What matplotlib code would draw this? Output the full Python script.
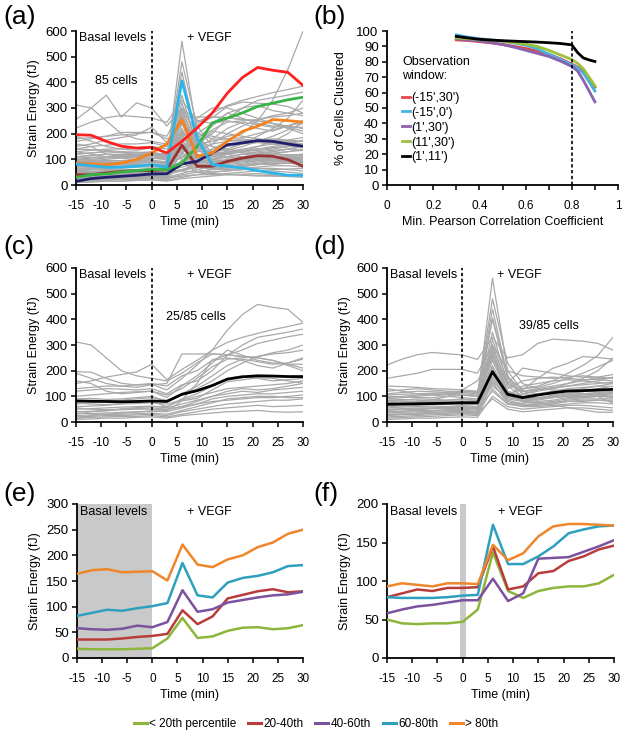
import matplotlib
matplotlib.use('Agg')
import matplotlib.pyplot as plt
from matplotlib.lines import Line2D
from matplotlib.patches import Rectangle

plt.rcParams['font.family'] = ['Liberation Sans', 'DejaVu Sans']
plt.rcParams['font.size'] = 8.5
plt.rcParams['axes.unicode_minus'] = False

# time points (min)
time = [-15, -12, -9, -6, -3, 0, 3, 6, 9, 12, 15, 18, 21, 24, 27, 30]

# --- panel (a) highlighted cells ---
a_red = [196, 194, 170, 151, 144, 147, 125, 170, 222, 280, 358, 419, 458, 447, 439, 388]
a_green = [30, 40, 43, 51, 56, 60, 60, 86, 150, 242, 261, 281, 306, 319, 332, 342]
a_navy = [14, 25, 30, 34, 38, 43, 44, 82, 92, 125, 157, 164, 173, 170, 160, 151]
a_cyan = [82, 75, 69, 69, 73, 79, 69, 406, 183, 79, 73, 66, 56, 47, 38, 38]
a_orange = [86, 82, 79, 86, 99, 125, 160, 255, 112, 125, 170, 209, 229, 255, 251, 245]
a_brown = [40, 40, 47, 53, 56, 56, 60, 155, 73, 73, 92, 105, 114, 112, 99, 73]

# --- cluster (c): gradual increase ---
cluster_c = [
    a_red, a_green, a_navy,
    [312, 300, 250, 200, 180, 170, 160, 190, 230, 265, 262, 255, 250, 240, 225, 210],
    [150, 160, 175, 185, 195, 225, 165, 205, 240, 280, 310, 330, 345, 360, 372, 385],
    [130, 135, 140, 140, 135, 145, 150, 265, 265, 265, 262, 255, 250, 240, 220, 200],
    [160, 150, 120, 110, 115, 120, 105, 130, 170, 215, 245, 250, 255, 265, 270, 280],
    [120, 125, 130, 128, 125, 130, 110, 145, 160, 200, 260, 300, 330, 340, 350, 362],
    [100, 105, 110, 115, 118, 120, 95, 140, 180, 230, 280, 260, 240, 230, 225, 225],
    [90, 92, 88, 90, 95, 100, 80, 110, 140, 180, 220, 245, 235, 225, 230, 250],
    [75, 70, 68, 72, 75, 80, 60, 90, 110, 140, 170, 180, 170, 160, 165, 170],
    [60, 62, 65, 70, 72, 75, 70, 85, 100, 115, 130, 135, 140, 145, 150, 160],
    [50, 52, 55, 58, 60, 62, 55, 70, 85, 100, 120, 130, 125, 130, 140, 150],
    [40, 42, 45, 48, 50, 50, 48, 60, 80, 100, 110, 120, 115, 125, 130, 135],
    [35, 33, 35, 38, 40, 42, 40, 55, 70, 90, 100, 105, 110, 110, 115, 120],
    [25, 28, 30, 30, 32, 35, 30, 45, 60, 75, 90, 95, 100, 100, 95, 95],
    [20, 22, 25, 25, 28, 30, 25, 40, 50, 60, 70, 75, 80, 85, 85, 90],
    [15, 18, 20, 22, 22, 25, 20, 30, 40, 50, 55, 60, 65, 60, 62, 65],
    [55, 50, 48, 50, 52, 55, 50, 60, 70, 80, 85, 90, 95, 95, 100, 105],
    [190, 170, 150, 140, 145, 150, 140, 180, 200, 240, 250, 240, 220, 210, 230, 245],
    [70, 75, 80, 85, 90, 95, 85, 105, 130, 160, 200, 230, 255, 270, 280, 300],
    [10, 12, 15, 15, 18, 20, 15, 25, 30, 35, 40, 42, 45, 40, 38, 40],
]
mean_c = [82, 81, 80, 79, 80, 82, 80, 108, 122, 142, 167, 176, 180, 179, 177, 177]

# --- cluster (d): spike at 6 min ---
cluster_d = [
    a_cyan, a_orange, a_brown,
    [222, 245, 262, 271, 266, 261, 244, 330, 250, 262, 306, 323, 319, 315, 306, 280],
    [170, 180, 190, 205, 205, 205, 190, 300, 200, 180, 175, 170, 175, 180, 175, 170],
    [130, 120, 110, 105, 100, 95, 90, 560, 200, 120, 110, 105, 100, 95, 100, 100],
    [110, 115, 120, 118, 115, 110, 105, 480, 230, 150, 130, 125, 120, 120, 118, 115],
    [100, 98, 95, 95, 100, 105, 100, 440, 180, 110, 120, 130, 150, 170, 200, 250],
    [90, 95, 100, 105, 110, 115, 110, 400, 170, 130, 140, 160, 190, 220, 260, 330],
    [80, 85, 90, 88, 85, 90, 85, 350, 150, 120, 125, 130, 140, 150, 160, 175],
    [70, 72, 75, 78, 80, 82, 78, 320, 160, 110, 105, 110, 120, 130, 140, 150],
    [60, 62, 65, 68, 70, 70, 68, 300, 140, 100, 95, 100, 110, 120, 130, 140],
    [55, 58, 60, 62, 60, 65, 60, 280, 120, 95, 90, 100, 105, 110, 115, 120],
    [50, 52, 55, 55, 58, 60, 55, 260, 115, 90, 85, 95, 100, 105, 110, 115],
    [45, 48, 50, 52, 52, 55, 50, 240, 110, 80, 90, 95, 100, 100, 105, 110],
    [40, 42, 45, 45, 48, 50, 45, 220, 100, 90, 95, 100, 105, 110, 110, 108],
    [35, 38, 40, 42, 45, 45, 42, 200, 95, 85, 80, 85, 95, 100, 105, 100],
    [30, 32, 35, 38, 40, 42, 38, 180, 90, 80, 75, 80, 90, 95, 100, 95],
    [25, 28, 30, 32, 35, 38, 35, 170, 85, 70, 70, 75, 85, 90, 90, 90],
    [20, 22, 25, 28, 30, 32, 30, 150, 80, 65, 65, 70, 80, 85, 85, 80],
    [15, 18, 20, 22, 25, 28, 25, 130, 70, 60, 60, 65, 70, 75, 75, 70],
    [120, 125, 130, 125, 120, 118, 115, 250, 150, 210, 200, 190, 180, 175, 170, 170],
    [95, 100, 105, 110, 108, 105, 100, 190, 130, 160, 170, 175, 170, 165, 165, 160],
    [65, 68, 70, 72, 75, 78, 75, 160, 100, 140, 150, 160, 165, 160, 155, 150],
    [85, 88, 85, 80, 78, 80, 75, 140, 95, 110, 125, 135, 140, 145, 150, 155],
    [10, 12, 15, 15, 18, 20, 18, 100, 60, 50, 55, 60, 65, 65, 60, 55],
    [48, 50, 52, 55, 55, 55, 52, 120, 70, 65, 70, 75, 80, 80, 85, 85],
    [75, 78, 80, 82, 85, 88, 82, 210, 120, 100, 110, 120, 130, 135, 140, 138],
    [105, 108, 110, 112, 115, 120, 118, 290, 150, 120, 130, 140, 150, 160, 175, 185],
    [28, 30, 32, 35, 35, 35, 32, 90, 50, 40, 45, 50, 55, 55, 50, 45],
    [140, 138, 135, 130, 128, 125, 120, 270, 140, 130, 135, 150, 170, 190, 215, 240],
]
mean_d = [69, 70, 71, 72, 73, 75, 75, 196, 108, 95, 105, 114, 121, 122, 125, 127]

# --- remaining cells (only in a) ---
others = [
    [110, 115, 120, 118, 120, 125, 120, 150, 160, 170, 190, 200, 250, 330, 450, 600],
    [255, 300, 350, 265, 320, 300, 230, 300, 250, 240, 280, 300, 310, 290, 280, 270],
    [100, 95, 90, 85, 90, 95, 90, 120, 260, 300, 300, 280, 260, 240, 230, 220],
    [60, 65, 70, 75, 80, 80, 70, 90, 130, 130, 120, 110, 100, 95, 90, 90],
    [180, 185, 190, 195, 200, 205, 180, 200, 170, 150, 140, 130, 135, 140, 150, 150],
    [45, 45, 48, 50, 50, 52, 50, 55, 50, 45, 40, 38, 35, 35, 33, 30],
    [140, 150, 155, 160, 160, 165, 150, 180, 200, 190, 180, 185, 200, 215, 230, 250],
    [30, 30, 28, 28, 30, 30, 28, 35, 40, 40, 42, 40, 38, 36, 35, 35],
]

# --- panel (b) ---
pearson = [0.3, 0.35, 0.4, 0.45, 0.5, 0.55, 0.6, 0.65, 0.7, 0.75, 0.8, 0.825, 0.85, 0.875, 0.9]
b_labels = ["(-15',30')", "(-15',0')", "(1',30')", "(11',30')", "(1',11')"]
b_red = [94.2, 93.8, 93.1, 92.3, 91.3, 90.0, 88.7, 87.0, 85.0, 82.0, 78.5, 76.5, 73.5, 69.0, 63.5]
b_cyan = [97.5, 96.0, 95.0, 94.3, 93.5, 92.2, 90.8, 88.5, 85.0, 81.5, 78.0, 76.0, 72.5, 67.0, 61.0]
b_purple = [95.0, 94.2, 93.5, 92.5, 91.2, 89.5, 87.5, 85.5, 83.5, 80.5, 77.0, 74.0, 68.0, 61.0, 54.0]
b_green = [95.5, 95.0, 94.5, 94.0, 93.3, 92.5, 91.5, 90.0, 87.5, 84.5, 81.5, 79.0, 75.5, 70.0, 64.5]
b_black = [96.5, 95.5, 94.6, 94.1, 93.7, 93.4, 93.1, 92.8, 92.4, 91.9, 91.0, 86.0, 82.5, 81.2, 80.2]

# --- panels (e) and (f): percentile groups ---
pct_labels = ['< 20th percentile', '20-40th', '40-60th', '60-80th', '> 80th']
e_series = [
    [18, 17, 17, 17, 18, 19, 38, 78, 39, 42, 53, 59, 60, 56, 58, 64],
    [36, 36, 36, 38, 41, 43, 47, 93, 66, 81, 116, 123, 130, 134, 128, 130],
    [58, 56, 55, 57, 63, 60, 70, 132, 90, 95, 108, 113, 118, 122, 124, 129],
    [82, 88, 94, 92, 97, 101, 107, 185, 122, 118, 147, 156, 160, 167, 179, 181],
    [164, 171, 173, 167, 168, 169, 151, 221, 182, 177, 192, 200, 216, 225, 242, 250],
]
f_series = [
    [50, 45, 44, 45, 45, 47, 63, 137, 87, 78, 87, 91, 93, 93, 97, 108],
    [79, 84, 89, 87, 91, 91, 92, 145, 89, 93, 110, 113, 126, 132, 141, 146],
    [58, 63, 67, 69, 72, 75, 75, 103, 74, 84, 129, 130, 131, 138, 145, 153],
    [79, 78, 78, 78, 79, 81, 82, 173, 122, 122, 132, 145, 162, 167, 171, 172],
    [93, 97, 95, 93, 97, 97, 96, 147, 127, 136, 158, 171, 174, 174, 173, 172],
]

GRAY = '#a9a9a9'
PCT_COLORS = ['#8db53c', '#b83d3a', '#7b529e', '#2f9fbe', '#f0862a']


def style_axes(ax):
    for side in ['top', 'right']:
        ax.spines[side].set_visible(False)
    for side in ['left', 'bottom']:
        ax.spines[side].set_linewidth(1.3)
    ax.tick_params(direction='out', length=3.5, width=1.1)
    ax.tick_params(axis='x', labelsize=8.5, pad=7.5)
    ax.tick_params(axis='y', labelsize=9.5, pad=2.5)


def time_axes(ax, ymax, ystep):
    style_axes(ax)
    ax.set_xlim(-15, 30)
    ax.set_ylim(0, ymax)
    ax.set_xticks(range(-15, 31, 5))
    ax.set_yticks(range(0, ymax + 1, ystep))
    ax.set_xlabel('Time (min)', labelpad=2.5, fontsize=9)
    ax.set_ylabel('Strain Energy (fJ)', labelpad=4, fontsize=9)


def draw_cells(ax, cells, lw=0.9):
    for c in cells:
        ax.plot(time, c, color=GRAY, lw=lw, zorder=1)


def basal_text(ax, y):
    ax.text(-14.5, y, 'Basal levels', ha='left', va='center', fontsize=9,
            zorder=5)
    ax.text(7, y, '+ VEGF', ha='left', va='center', fontsize=9, zorder=5)


fig = plt.figure(figsize=(6.26, 7.36), dpi=100)
W, H = 626.0, 736.0


def add_ax(x0, x1, ytop, ybot):
    return fig.add_axes([x0 / W, 1 - ybot / H, (x1 - x0) / W, (ybot - ytop) / H])


# (a)
ax = add_ax(76, 303, 31, 185)
time_axes(ax, 600, 100)
draw_cells(ax, cluster_c + cluster_d + others)
for vals, col in [(a_brown, '#993333'), (a_navy, '#1f1f6b'), (a_green, '#36b445'),
                  (a_orange, '#f5821f'), (a_cyan, '#2cb5ea'), (a_red, '#ff2020')]:
    ax.plot(time, vals, color=col, lw=2.0, zorder=3)
ax.plot([0, 0], [0, 600], color='black', ls=(0, (2, 1.5)), lw=1.2, zorder=4)
basal_text(ax, 573)
ax.text(-7, 405, '85 cells', ha='center', va='center', fontsize=9)

# (b)
ax = add_ax(387, 618, 31, 185)
style_axes(ax)
ax.set_xlim(0, 1)
ax.set_ylim(0, 100)
ax.set_xticks([0, 0.2, 0.4, 0.6, 0.8, 1.0])
ax.set_xticklabels(['0', '0.2', '0.4', '0.6', '0.8', '1'])
ax.set_xticks([0.1, 0.3, 0.5, 0.7, 0.9], minor=True)
ax.tick_params(which='minor', direction='out', length=3.5, width=1.1)
ax.set_yticks(range(0, 101, 10))
ax.set_xlabel('Min. Pearson Correlation Coefficient', labelpad=2.5, fontsize=9)
ax.set_ylabel('% of Cells Clustered', labelpad=7, fontsize=9)
handles = []
for vals, col in [(b_red, '#e5484a'), (b_cyan, '#45b3e0'), (b_purple, '#8b62b0'),
                  (b_green, '#9ac23d'), (b_black, 'black')]:
    h, = ax.plot(pearson, vals, color=col, lw=2.0)
    handles.append(h)
ax.plot([0.8, 0.8], [0, 100], color='black', ls=(0, (2, 1.5)), lw=1.2)
leg = ax.legend(handles, b_labels, title='Observation\nwindow:', loc='upper left',
                bbox_to_anchor=(0.065, 0.835), frameon=False, fontsize=9,
                title_fontsize=9, handlelength=0.6, handletextpad=0.15,
                labelspacing=0.23, borderpad=0, borderaxespad=0, alignment='left')
leg._legend_box.sep = 7

# (c)
ax = add_ax(76, 303, 268, 422)
time_axes(ax, 600, 100)
draw_cells(ax, cluster_c)
ax.plot(time, mean_c, color='black', lw=2.0, zorder=3)
ax.plot([0, 0], [0, 600], color='black', ls=(0, (2, 1.5)), lw=1.2, zorder=4)
basal_text(ax, 573)
ax.text(8.8, 409, '25/85 cells', ha='center', va='center', fontsize=9)

# (d)
ax = add_ax(387, 613, 268, 422)
time_axes(ax, 600, 100)
draw_cells(ax, cluster_d)
ax.plot(time, mean_d, color='black', lw=2.0, zorder=3)
ax.plot([0, 0], [0, 600], color='black', ls=(0, (2, 1.5)), lw=1.2, zorder=4)
basal_text(ax, 573)
ax.text(17.2, 374, '39/85 cells', ha='center', va='center', fontsize=9)

# (e)
ax = add_ax(77, 303, 504, 658)
time_axes(ax, 300, 50)
ax.add_patch(Rectangle((-15, 0), 15, 300, facecolor='#c9c9c9', edgecolor='none', zorder=0))
for vals, col in zip(e_series, PCT_COLORS):
    ax.plot(time, vals, color=col, lw=1.8, zorder=3)
basal_text(ax, 284)

# (f)
ax = add_ax(387, 614, 504, 658)
time_axes(ax, 200, 50)
ax.add_patch(Rectangle((-0.6, 0), 1.2, 200, facecolor='#c9c9c9', edgecolor='none', zorder=0))
for vals, col in zip(f_series, PCT_COLORS):
    ax.plot(time, vals, color=col, lw=1.8, zorder=3)
basal_text(ax, 190)

# panel letters
for lab, x, y in [('(a)', 3, 17), ('(b)', 313, 17), ('(c)', 3, 247),
                  ('(d)', 313, 247), ('(e)', 3, 494), ('(f)', 313, 494)]:
    fig.text(x / W, 1 - y / H, lab, ha='left', va='center', fontsize=19)

# bottom legend
leg_handles = [Line2D([0], [0], color=c, lw=2.2) for c in PCT_COLORS]
fig.legend(leg_handles, pct_labels, loc='center', bbox_to_anchor=(316 / W, 1 - 724 / H),
           ncol=5, frameon=False, fontsize=8.5, handlelength=1.1, handletextpad=0.2,
           columnspacing=1.0)

fig.savefig('out.png', dpi=100)
